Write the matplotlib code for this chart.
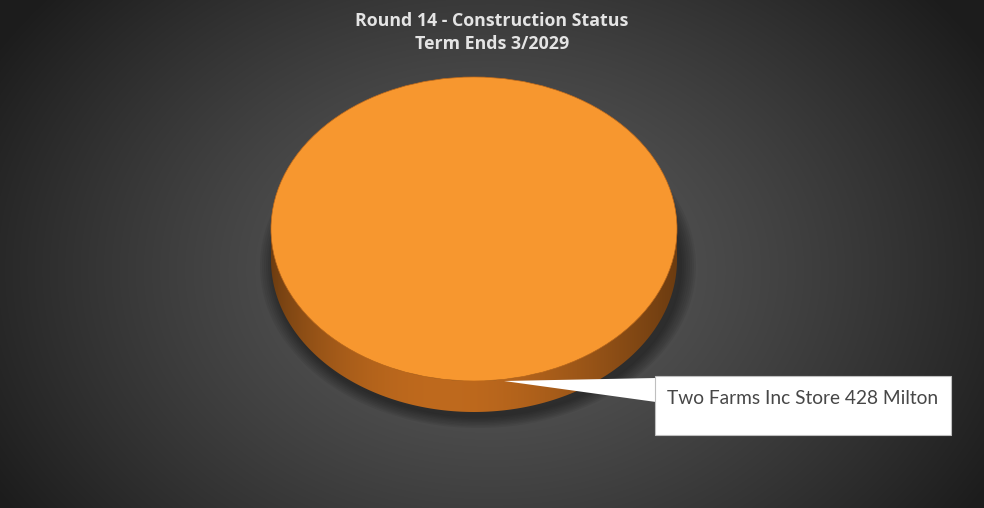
import numpy as np
import matplotlib.pyplot as plt
from matplotlib.patches import Ellipse, Polygon, Rectangle

# chart data
title_lines = ["Round 14 - Construction Status", "Term Ends 3/2029"]
labels = ["Two Farms Inc Store 428 Milton"]
values = [1]
colors = ["#f7972f"]

W, H = 984, 508
fig = plt.figure(figsize=(W / 100, H / 100), dpi=100)
ax = fig.add_axes([0, 0, 1, 1])
ax.set_xlim(0, W)
ax.set_ylim(H, 0)
ax.axis('off')

# radial grey background
yy, xx = np.mgrid[0:H, 0:W]
r = np.sqrt(((xx - 490) / 560.0) ** 2 + ((yy - 270) / 420.0) ** 2)
g = np.clip(0.36 - 0.24 * r ** 1.3, 0.11, 0.4)
ax.imshow(np.dstack([g, g, g]), extent=[0, W, H, 0], zorder=0, aspect='auto')

# pie geometry
cx, cy, rx, ry, depth = 474, 229, 203, 152, 31

# soft shadow under the pie
for k in range(8):
    ax.add_patch(Ellipse((cx + 4, cy + depth + 6), 2 * rx + 30 - 4 * k, 2 * ry + 20 - 3 * k,
                         facecolor='black', edgecolor='none', alpha=0.06, zorder=1))

# side of the pie, shaded left to right
t = np.linspace(0, np.pi, 200)
top_x = cx + rx * np.cos(t)
top_y = cy + ry * np.sin(t)
side_pts = np.concatenate([np.column_stack([top_x, top_y]),
                           np.column_stack([top_x[::-1], top_y[::-1] + depth])])
side = Polygon(side_pts, closed=True, facecolor='none', edgecolor='none', zorder=2)
ax.add_patch(side)
sx = np.linspace(0, 1, 300)
shade = 0.5 + 0.38 * np.sin(np.pi * sx ** 0.8)
base = np.array([0.85, 0.47, 0.13])
grad = np.clip(shade[None, :, None] * base[None, None, :], 0, 1)
grad = np.repeat(grad, 2, axis=0)
im = ax.imshow(grad, extent=[cx - rx, cx + rx, cy + ry + depth, cy], aspect='auto', zorder=2)
im.set_clip_path(side)

# top face, one wedge per value
total = float(sum(values))
start = 90.0
anchors = []
for val, col in zip(values, colors):
    span = 360.0 * val / total
    if span >= 359.999:
        ax.add_patch(Ellipse((cx, cy), 2 * rx, 2 * ry, facecolor=col, edgecolor='#c06a1a',
                             linewidth=0.5, zorder=3))
    else:
        a = np.radians(np.linspace(start, start - span, 100))
        pts = np.column_stack([cx + rx * np.cos(a), cy - ry * np.sin(a)])
        pts = np.vstack([[cx, cy], pts])
        ax.add_patch(Polygon(pts, closed=True, facecolor=col, edgecolor='#c06a1a', zorder=3))
    mid = np.radians(start - span / 2)
    anchors.append((cx + rx * np.cos(mid) + 30, cy - ry * np.sin(mid)))
    start -= span

# data label callouts
bx, by, bw, bh = 655, 376, 296, 59
for lab, (axp, ayp) in zip(labels, anchors):
    ax.add_patch(Polygon([(axp, ayp), (bx + 1, by + 2), (bx + 1, by + 26)], closed=True,
                         facecolor='white', edgecolor='none', zorder=4))
    ax.add_patch(Rectangle((bx, by), bw, bh, facecolor='white', edgecolor='#bfbfbf',
                           linewidth=0.8, zorder=5))
    ax.text(bx + 12, by + 22, lab, fontsize=13.8, color='#474747', family='Lato',
            va='center', ha='left', zorder=6)

# title
ax.text(492, 21, title_lines[0], fontsize=12.8, fontweight='bold', color='#e4e4e4',
        family='Open Sans', ha='center', va='center', zorder=6)
ax.text(492, 44, title_lines[1], fontsize=12.8, fontweight='bold', color='#e4e4e4',
        family='Open Sans', ha='center', va='center', zorder=6)

fig.savefig('out.png', dpi=100)
